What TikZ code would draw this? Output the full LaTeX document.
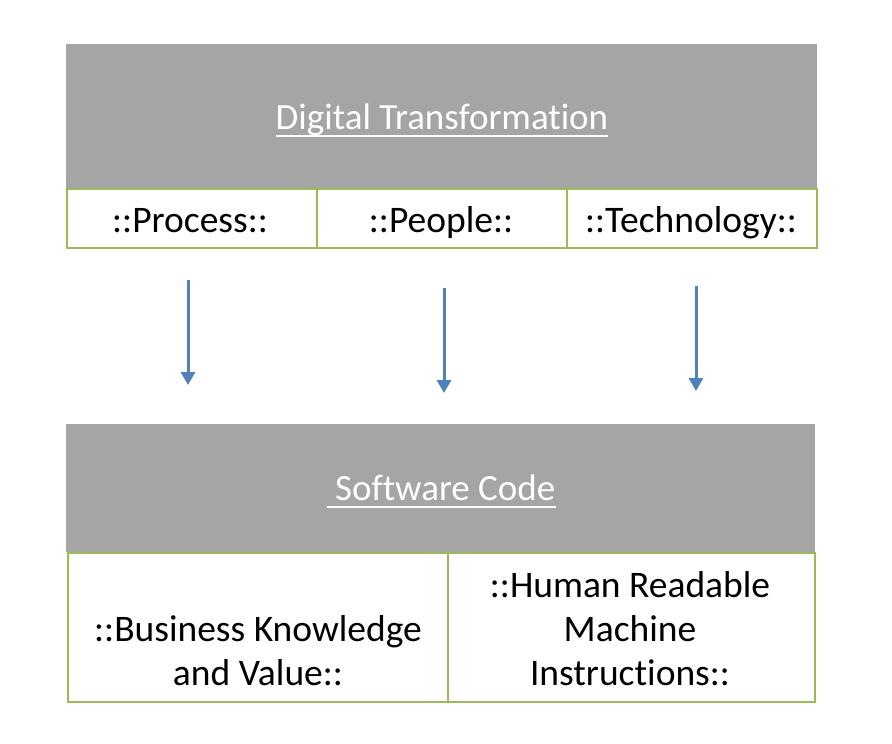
\documentclass[tikz,border=0pt]{standalone}
\usepackage{fontspec}
\usetikzlibrary{arrows.meta}
\setmainfont[Ligatures=NoCommon]{Carlito}
\definecolor{hdrgray}{HTML}{A5A5A5}
\definecolor{cellgreen}{HTML}{9BBB59}
\definecolor{arrowblue}{HTML}{4F81BD}
\begin{document}
\begin{tikzpicture}[x=1pt,y=-1pt,
  hdrtext/.style={text=white,font=\fontsize{37}{44}\selectfont,inner sep=0pt,anchor=base},
  cell/.style={draw=cellgreen,line width=2pt,fill=white,inner sep=0pt},
  celltext/.style={font=\fontsize{37.5}{44}\selectfont,align=center,inner sep=0pt},
  flow/.style={draw=arrowblue,line width=3pt,-{Triangle[width=14pt,length=13pt]}}]
\useasboundingbox (0,0) rectangle (892,744);

% upper block: Digital Transformation
\fill[hdrgray] (66,44) rectangle (817,188);
\node[hdrtext] (dt) at (442,129) {Digital Transformation};
\draw[white,line width=1.6pt] ([yshift=-7pt]dt.base west) -- ([yshift=-7pt]dt.base east);

\draw[cell] (67,189) rectangle (817,248);
\draw[cellgreen,line width=2pt] (317,189) -- (317,248) (567,189) -- (567,248);
\node[celltext,anchor=base] (proc) at (190,232) {::Process::};
\node[celltext,anchor=base] (ppl) at (441,232) {::People::};
\node[celltext,anchor=base] (tech) at (691,232) {::Technology::};

% arrows
\coordinate (a1s) at (188,280); \coordinate (a1e) at (188,385);
\coordinate (a2s) at (444,288); \coordinate (a2e) at (444,393);
\coordinate (a3s) at (696,286); \coordinate (a3e) at (696,391);
\draw[flow] (a1s) -- (a1e);
\draw[flow] (a2s) -- (a2e);
\draw[flow] (a3s) -- (a3e);

% lower block: Software Code
\fill[hdrgray] (66,424) rectangle (815,552);
\node[hdrtext] (sc) at (441,500) {\ Software Code};
\draw[white,line width=1.6pt] ([yshift=-7pt]sc.base west) -- ([yshift=-7pt]sc.base east);

\draw[cell] (68,553) rectangle (815,702);
\draw[cellgreen,line width=2pt] (448,553) -- (448,702);
\node[celltext] (biz) at (258,651) {::Business Knowledge\\and Value::};
\node[celltext] (hum) at (630,629) {::Human Readable\\Machine\\Instructions::};
\end{tikzpicture}
\end{document}
